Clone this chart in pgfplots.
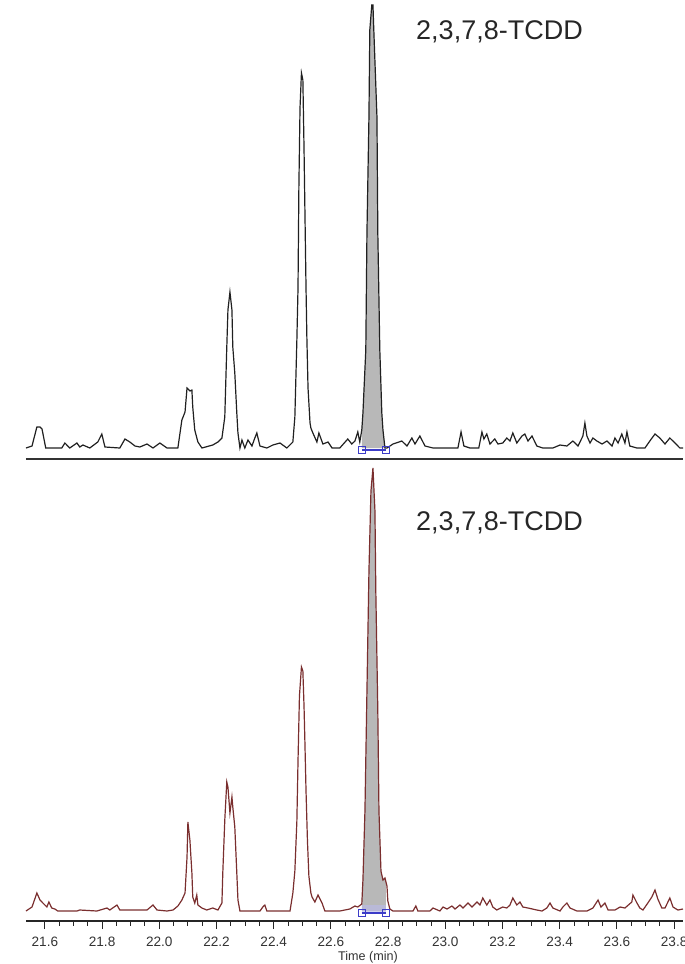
\documentclass[border=0pt]{standalone}
\usepackage{fontspec}
\setmainfont{Liberation Sans}
\usepackage{pgfplots}
\pgfplotsset{compat=1.18}
\definecolor{trace1}{HTML}{202020}
\definecolor{trace2}{HTML}{7A2E2E}
\definecolor{peakfill}{HTML}{B8B8B8}
\definecolor{intblue}{HTML}{3C3CC8}

\begin{document}
\begin{tikzpicture}
% ---------------- top chromatogram ----------------
\begin{axis}[
  at={(13pt,0pt)}, anchor=north west,
  scale only axis, width=328.5pt, height=229.5pt,
  xmin=21.534, xmax=23.831, ymin=-11, ymax=448,
  axis x line*=bottom, axis y line=none,
  x axis line style={line width=0.9pt, draw=black!80},
  xtick=\empty, ytick=\empty,
  clip=false,
]
\addplot[fill=peakfill, draw=none] coordinates {
(22.708,0) (22.708,18) (22.712,35) (22.722,98) (22.726,215) (22.733,331) (22.736,418)
(22.743,443) (22.747,443) (22.750,418) (22.761,331) (22.764,215) (22.771,98) (22.778,35)
(22.782,18) (22.789,0) (22.792,0)} -- cycle;
\addplot[trace1, line width=0.6pt] coordinates {
(21.534,0) (21.555,2) (21.572,21) (21.583,21) (21.590,19) (21.603,0) (21.659,0) (21.670,5)
(21.687,0) (21.712,5) (21.722,1) (21.733,3) (21.757,0) (21.785,6) (21.799,14) (21.810,1)
(21.862,0) (21.880,9) (21.897,6) (21.915,2) (21.932,1) (21.957,4) (21.978,0) (22.002,5)
(22.027,0) (22.065,0) (22.079,28) (22.090,36) (22.097,60) (22.107,57) (22.114,58) (22.117,41)
(22.124,18) (22.135,6) (22.149,0) (22.187,3) (22.205,6) (22.219,10) (22.229,31) (22.236,101)
(22.240,138) (22.247,156) (22.254,138) (22.257,101) (22.264,75) (22.271,35) (22.275,15)
(22.282,0) (22.289,8) (22.299,0) (22.310,8) (22.324,2) (22.334,10) (22.341,15) (22.352,2)
(22.376,0) (22.397,3) (22.422,5) (22.446,0) (22.467,6) (22.474,31) (22.481,108) (22.485,160)
(22.488,260) (22.492,340) (22.497,375) (22.502,368) (22.506,300) (22.509,240) (22.513,160)
(22.516,110) (22.520,60) (22.527,25) (22.530,20)
(22.537,15) (22.551,6) (22.558,15) (22.572,4) (22.590,6) (22.604,0) (22.631,0) (22.659,9)
(22.673,4) (22.684,7) (22.694,16) (22.701,6) (22.708,18) (22.712,35) (22.722,98) (22.726,215)
(22.733,331) (22.736,418) (22.743,443) (22.747,443) (22.750,418) (22.761,331) (22.764,215)
(22.771,98) (22.778,35) (22.782,18) (22.789,0) (22.796,0) (22.817,4) (22.848,7) (22.866,2)
(22.883,10) (22.894,4) (22.911,12) (22.929,2) (22.957,0) (23.044,0) (23.055,16) (23.065,2)
(23.086,0) (23.117,0) (23.128,16) (23.135,9) (23.145,14) (23.156,4) (23.173,9) (23.184,4)
(23.201,5) (23.215,10) (23.226,7) (23.236,15) (23.250,5) (23.268,12) (23.278,14) (23.289,7)
(23.303,12) (23.320,2) (23.341,0) (23.376,0) (23.401,3) (23.425,2) (23.446,7) (23.464,2)
(23.481,12) (23.488,25) (23.495,12) (23.506,5) (23.516,10) (23.530,7) (23.548,4) (23.565,7)
(23.583,2) (23.593,10) (23.604,5) (23.617,14) (23.628,5) (23.635,16) (23.645,2) (23.670,0)
(23.698,0) (23.715,7) (23.733,14) (23.750,10) (23.768,4) (23.785,10) (23.803,5) (23.820,0)
(23.831,0)};
\addplot[intblue, line width=0.6pt, mark=square, mark size=1.8pt,
  mark options={solid, fill=none, line width=0.6pt}] coordinates {(22.708,-2) (22.792,-2)};
\end{axis}

% ---------------- bottom chromatogram ----------------
\begin{axis}[
  at={(13pt,-232.5pt)}, anchor=north west,
  scale only axis, width=328.5pt, height=228pt,
  xmin=21.534, xmax=23.831, ymin=-10, ymax=446,
  axis x line*=bottom, axis y line=none,
  x axis line style={line width=0.6pt, draw=black!85},
  xtick={21.6,21.8,22.0,22.2,22.4,22.6,22.8,23.0,23.2,23.4,23.6,23.8},
  xticklabels={21.6,21.8,22.0,22.2,22.4,22.6,22.8,23.0,23.2,23.4,23.6,23.8},
  minor tick num=3, ytick=\empty,
  tick align=outside, major tick length=4pt, minor tick length=2.3pt,
  tick style={black!85, line width=0.5pt},
  xticklabel style={font=\fontsize{6.8}{8}\selectfont, text=black!80, yshift=-0.5pt},
  /pgf/number format/assume math mode=true,
  clip=false,
]
\addplot[fill=peakfill, draw=none] coordinates {
(22.708,0) (22.708,7) (22.712,31) (22.719,100) (22.726,220) (22.733,340) (22.740,420)
(22.747,443) (22.754,400) (22.757,320) (22.764,200) (22.768,100) (22.775,40) (22.782,31)
(22.789,33) (22.792,29) (22.792,0)} -- cycle;
\addplot[intblue!35, draw=none, fill=intblue!35, fill opacity=0.6] coordinates {
(22.708,-2) (22.708,6) (22.792,6) (22.792,-2)} -- cycle;
\addplot[trace2, line width=0.6pt] coordinates {
(21.534,0) (21.555,4) (21.572,18) (21.583,11) (21.593,8) (21.607,4) (21.614,9) (21.624,3)
(21.635,2) (21.645,0) (21.712,0) (21.722,1) (21.782,0) (21.817,3) (21.827,1) (21.852,6)
(21.862,1) (21.908,1) (21.957,1) (21.978,6) (21.992,1) (22.027,0) (22.048,1) (22.065,5)
(22.079,11) (22.090,18) (22.097,54) (22.100,89) (22.107,71) (22.114,38) (22.117,14) (22.124,8)
(22.131,16) (22.135,6) (22.149,3) (22.166,1) (22.187,3) (22.205,1) (22.219,8) (22.222,38)
(22.229,91) (22.236,129) (22.240,124) (22.247,98) (22.254,114) (22.257,104) (22.264,84)
(22.271,38) (22.275,11) (22.282,0) (22.352,0) (22.362,4) (22.369,6) (22.376,0) (22.457,0)
(22.467,18) (22.474,40) (22.481,90) (22.485,150) (22.490,215) (22.497,244) (22.502,240)
(22.506,205) (22.509,170) (22.513,120) (22.518,70) (22.523,35) (22.530,18)
(22.534,14) (22.544,9) (22.555,16) (22.569,8) (22.579,0)
(22.631,0) (22.666,2) (22.684,5) (22.694,4) (22.708,7) (22.712,31) (22.719,100) (22.726,220)
(22.733,340) (22.740,420) (22.747,443) (22.754,400) (22.757,320) (22.764,200) (22.768,100)
(22.775,40) (22.782,31) (22.789,33) (22.796,25) (22.799,10) (22.806,2) (22.817,0) (22.887,0)
(22.897,5) (22.904,0) (22.946,0) (22.957,3) (22.981,0) (22.992,4) (23.006,2) (23.023,5)
(23.034,2) (23.051,6) (23.062,3) (23.079,8) (23.093,4) (23.111,9) (23.121,6) (23.131,13)
(23.145,6) (23.156,11) (23.166,4) (23.180,1) (23.201,4) (23.215,3) (23.226,6) (23.236,13)
(23.250,6) (23.261,9) (23.271,4) (23.289,3) (23.320,1) (23.338,0) (23.355,3) (23.366,8)
(23.376,3) (23.401,0) (23.411,4) (23.425,8) (23.436,3) (23.460,0) (23.495,0) (23.516,3)
(23.534,11) (23.544,4) (23.558,8) (23.569,1) (23.593,1) (23.611,4) (23.628,3) (23.652,9)
(23.656,16) (23.670,8) (23.680,3) (23.691,1) (23.708,8) (23.722,14) (23.733,21) (23.743,12)
(23.757,3) (23.768,3) (23.785,13) (23.796,4) (23.813,1) (23.831,2)};
\addplot[intblue, line width=0.6pt, mark=square, mark size=1.8pt,
  mark options={solid, fill=none, line width=0.6pt}] coordinates {(22.708,-2) (22.792,-2)};
\end{axis}

\node[font=\fontsize{13.5}{16}\selectfont, text=black!85] at (249.75pt,-16pt) {2,3,7,8-TCDD};
\node[font=\fontsize{13.5}{16}\selectfont, text=black!85] at (249.75pt,-261.5pt) {2,3,7,8-TCDD};
\node[font=\fontsize{6.3}{7}\selectfont, text=black!80] at (184pt,-478.5pt) {Time (min)};

\pgfresetboundingbox
\path[use as bounding box] (0pt,0pt) rectangle (342.5pt,-482pt);
\end{tikzpicture}
\end{document}
